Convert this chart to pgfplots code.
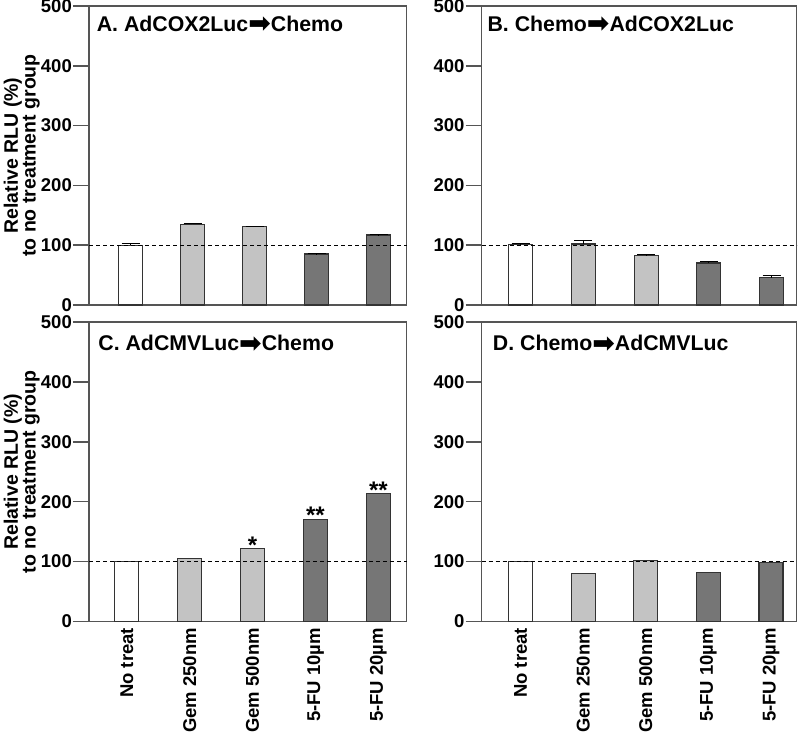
\documentclass[border=0pt]{standalone}
\usepackage{pgfplots}
\pgfplotsset{compat=1.18}
\usepackage{fontspec}
\setmainfont{Liberation Sans}
\newfontfamily\arrowfont{DejaVu Sans}
\definecolor{axisgray}{HTML}{555555}
\definecolor{lightbar}{HTML}{C3C3C3}
\definecolor{darkbar}{HTML}{767676}
\definecolor{edgec}{HTML}{333333}
\newcommand{\arr}{{\arrowfont\fontsize{27}{22}\selectfont\raisebox{-1.5pt}{\char"27A1}}}
\tikzset{ttl/.style={anchor=north west, font=\fontsize{21.3}{22}\selectfont\bfseries, inner sep=0pt}}
\pgfplotsset{
  panel/.style={
    scale only axis,
    ymin=0, ymax=500,
    ytick={0,100,200,300,400,500},
    xtick={0,1,2,3,4},
    tick align=outside,
    major tick length=16pt,
    ytick pos=left,
    xtick pos=bottom,
    xtick style={draw=none},
    ytick style={draw=axisgray, line width=1.5pt},
    axis line style={draw=axisgray, line width=1.5pt},
    /pgf/number format/assume math mode=true,
    tick label style={font=\fontsize{18.5}{20}\selectfont\bfseries},
    yticklabel style={inner sep=1pt},
    xticklabels={},
    clip=false,
  },
  bars/.style={ybar, bar width=24pt, bar shift=0pt, draw=edgec, line width=1.1pt},
  errs/.style={error bars/y dir=plus, error bars/y explicit,
    error bars/error mark options={rotate=90, mark size=9pt, line width=1.2pt, draw=black},
    error bars/error bar style={line width=1.2pt, draw=black}},
  ylab/.style={ylabel={Relative RLU (\%)\\to no treatment group}, ylabel style={align=center, font=\fontsize{19.5}{16.5}\selectfont\bfseries, at={(rel axis cs:0,0.5)}, anchor=south, yshift=47pt, inner sep=2pt}},
  catlabels/.style={xticklabels={No treat, Gem 250nm, Gem 500nm, 5-FU 10µm, 5-FU 20µm},
    xticklabel style={rotate=90, anchor=east, xshift=13pt, font=\fontsize{18.5}{20}\selectfont\bfseries}},
}
\begin{document}
\begin{tikzpicture}[x=1pt,y=1pt]
\useasboundingbox (0,0) rectangle (800,731);
\clip (0,0) rectangle (800,731);
% Panel A
\begin{axis}[panel, ylab, at={(89pt,426pt)}, anchor=south west, width=317.7pt, height=299pt, xmin=-0.67, xmax=4.45]
\addplot[bars, errs, fill=white] coordinates {(0,100) +- (0,2.5)};
\addplot[bars, errs, fill=lightbar] coordinates {(1,135) +- (0,1.8) (2,131) +- (0,0.5)};
\addplot[bars, errs, fill=darkbar] coordinates {(3,85.3) +- (0,0.5) (4,117) +- (0,0.5)};
\addplot[black, line width=0.9pt, dash pattern=on 4pt off 3pt] coordinates {(-0.67,100) (4.45,100)};
\node[ttl] at (rel axis cs:0.024,0.967) {A. AdCOX2Luc\arr Chemo};
\end{axis}
% Panel B
\begin{axis}[panel, at={(481.7pt,426pt)}, anchor=south west, width=315pt, height=299pt, xmin=-0.62, xmax=4.4]
\addplot[bars, errs, fill=white] coordinates {(0,101.5) +- (0,1.2)};
\addplot[bars, errs, fill=lightbar] coordinates {(1,102) +- (0,5.5) (2,82.5) +- (0,2.2)};
\addplot[bars, errs, fill=darkbar] coordinates {(3,70.3) +- (0,1.8) (4,45.7) +- (0,4)};
\addplot[black, line width=0.9pt, dash pattern=on 4pt off 3pt] coordinates {(-0.62,100) (4.4,100)};
\node[ttl] at (rel axis cs:0.018,0.967) {B. Chemo\arr AdCOX2Luc};
\end{axis}
% Panel C
\begin{axis}[panel, ylab, catlabels, at={(89pt,109.5pt)}, anchor=south west, width=317.7pt, height=299.5pt, xmin=-0.6, xmax=4.45]
\addplot[bars, fill=white] coordinates {(0,100)};
\addplot[bars, fill=lightbar, nodes near coords={\pgfplotspointmeta}, point meta=explicit symbolic,
  every node near coord/.style={font=\fontsize{24}{24}\selectfont\bfseries, anchor=south, inner sep=0pt, yshift=-5pt}]
  coordinates {(1,105.3) [{}] (2,121.4) [*]};
\addplot[bars, fill=darkbar, nodes near coords={\pgfplotspointmeta}, point meta=explicit symbolic,
  every node near coord/.style={font=\fontsize{24}{24}\selectfont\bfseries, anchor=south, inner sep=0pt, yshift=-5pt}]
  coordinates {(3,171) [**] (4,213.4) [**]};
\addplot[black, line width=0.9pt, dash pattern=on 4pt off 3pt] coordinates {(-0.6,100) (4.45,100)};
\node[ttl] at (rel axis cs:0.029,0.957) {C. AdCMVLuc\arr Chemo};
\end{axis}
% Panel D
\begin{axis}[panel, catlabels, at={(481.7pt,109.5pt)}, anchor=south west, width=315pt, height=299.5pt, xmin=-0.62, xmax=4.41]
\addplot[bars, fill=white] coordinates {(0,100)};
\addplot[bars, fill=lightbar] coordinates {(1,79.7) (2,101.4)};
\addplot[bars, fill=darkbar] coordinates {(3,81.9) (4,98.6)};
\addplot[black, line width=0.9pt, dash pattern=on 4pt off 3pt] coordinates {(-0.62,100) (4.41,100)};
\node[ttl] at (rel axis cs:0.035,0.957) {D. Chemo\arr AdCMVLuc};
\end{axis}
\end{tikzpicture}
\end{document}
